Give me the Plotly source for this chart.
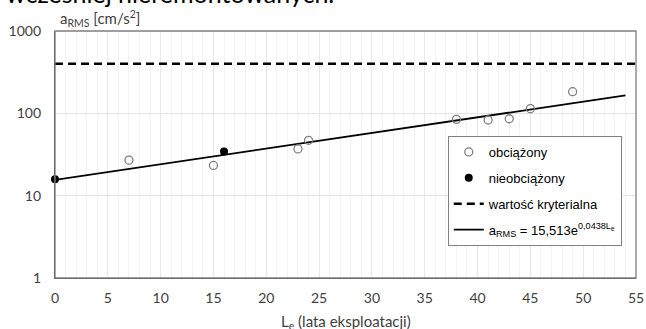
import plotly.graph_objects as go

# ---- data ----
loaded_x = [7, 15, 23, 24, 38, 41, 43, 45, 49]
loaded_y = [27, 23.3, 37, 47, 84.5, 83, 86, 114, 183]
unloaded_x = [0, 16]
unloaded_y = [15.8, 34.5]
criterion_x = [0, 55]
criterion_y = [400, 400]
trend_x = [0, 54]
trend_y = [15.513, 165.2]
x_ticks = [0, 5, 10, 15, 20, 25, 30, 35, 40, 45, 50, 55]
y_ticks = [1, 10, 100, 1000]
y_tick_labels = ["1", "10", "100", "1000"]

label_loaded = "obciążony"
label_unloaded = "nieobciążony"
label_criterion = "wartość kryterialna"
label_trend = "a<sub>RMS</sub> = 15,513e<sup>0,0438L<sub>e</sub></sup>"

CAL = "Lato, 'Open Sans', sans-serif"
ARIAL = "'Liberation Sans', Arial, sans-serif"

fig = go.Figure()

fig.add_trace(go.Scatter(
    x=criterion_x, y=criterion_y, mode="lines", name=label_criterion,
    line=dict(color="black", width=2.6, dash="8px,5px"),
    legendrank=3, legendgroup="c"))
fig.add_trace(go.Scatter(
    x=trend_x, y=trend_y, mode="lines", name=label_trend,
    line=dict(color="black", width=1.8),
    legendrank=4, legendgroup="d"))
fig.add_trace(go.Scatter(
    x=loaded_x, y=loaded_y, mode="markers", name=label_loaded,
    marker=dict(symbol="circle-open", size=8, color="#7f7f7f", line=dict(width=1.3)),
    legendrank=1, legendgroup="a", cliponaxis=False))
fig.add_trace(go.Scatter(
    x=unloaded_x, y=unloaded_y, mode="markers", name=label_unloaded,
    marker=dict(symbol="circle", size=8, color="black"),
    legendrank=2, legendgroup="b", cliponaxis=False))

fig.update_layout(
    width=646, height=329,
    margin=dict(l=55, r=10, t=31, b=51, autoexpand=False),
    paper_bgcolor="white", plot_bgcolor="white",
    showlegend=True,
    legend=dict(
        x=0.676, y=0.575, xanchor="left", yanchor="top",
        bgcolor="white", bordercolor="#808080", borderwidth=1,
        font=dict(family=ARIAL, size=13, color="black"),
        tracegroupgap=6, itemwidth=30,
    ),
    font=dict(family=CAL, size=14, color="#404040"),
)

fig.update_xaxes(
    range=[0, 55], tickvals=x_ticks, ticks="", showline=True,
    linecolor="#404040", linewidth=1.3, mirror=False,
    showgrid=True, gridcolor="#e8e8e8", gridwidth=1,
    minor=dict(dtick=1, showgrid=True, gridcolor="#f2f2f2", gridwidth=1),
    zeroline=False, ticklabelstandoff=7, automargin=False,
    tickfont=dict(family=CAL, size=14, color="#404040"),
)
fig.update_yaxes(
    type="log", range=[0, 3], tickvals=y_ticks, ticktext=y_tick_labels,
    ticks="", showline=True, linecolor="#404040", linewidth=1.3, mirror=False,
    showgrid=True, gridcolor="#e4e4e4", gridwidth=1,
    zeroline=False, ticklabelstandoff=10, automargin=False,
    tickfont=dict(family=CAL, size=14, color="#404040"),
)

# plot-area border (top/right)
fig.add_shape(type="rect", xref="paper", yref="paper", x0=0, y0=0, x1=1, y1=1,
              line=dict(color="#7f7f7f", width=1.3), layer="above")

# axis titles and the clipped caption from the surrounding document
fig.add_annotation(text="a<sub>RMS</sub> [cm/s<sup>2</sup>]", xref="paper", yref="paper",
                   x=0.005, y=1.0, xanchor="left", yanchor="bottom", showarrow=False,
                   font=dict(family=CAL, size=15, color="#404040"))
fig.add_annotation(text="L<sub>e</sub> (lata eksploatacji)", xref="paper", yref="paper",
                   x=0.5, y=-0.13, xanchor="center", yanchor="top", showarrow=False,
                   font=dict(family=CAL, size=15, color="#404040"))
fig.add_annotation(text="wcześniej nieremontowanych.", xref="paper", yref="paper",
                   x=-0.088, y=1.083, xanchor="left", yanchor="bottom", showarrow=False,
                   font=dict(family=CAL, size=25, color="black"))

fig.write_html("out.html", config={"displayModeBar": False},
               post_script="document.body.style.margin='0';document.body.style.overflow='hidden';")
